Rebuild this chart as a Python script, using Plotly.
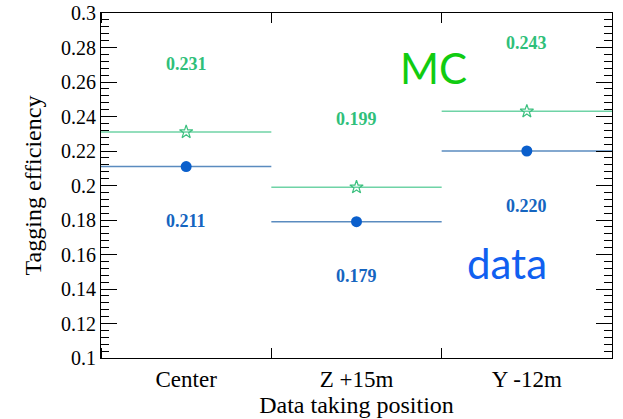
import plotly.graph_objects as go

categories = ["Center", "Z +15m", "Y -12m"]
mc_eff = [0.231, 0.199, 0.243]
data_eff = [0.211, 0.179, 0.220]
y_ticks = [0.1, 0.12, 0.14, 0.16, 0.18, 0.2, 0.22, 0.24, 0.26, 0.28, 0.3]

xpos = [i + 0.5 for i in range(len(categories))]
serif = "Liberation Serif"

fig = go.Figure()
fig.add_trace(go.Scatter(
    x=xpos, y=mc_eff, mode="markers",
    marker=dict(symbol="star-open", size=10, color="#3cc07f", line=dict(width=1.2, color="#3cc07f")),
    error_x=dict(type="constant", value=0.5, width=0, thickness=1.5, color="#6fd3a6"),
    showlegend=False, hoverinfo="skip"))
fig.add_trace(go.Scatter(
    x=xpos, y=data_eff, mode="markers",
    marker=dict(symbol="circle", size=11, color="#0a5fcc"),
    error_x=dict(type="constant", value=0.5, width=0, thickness=1.5, color="#5a8bbf"),
    showlegend=False, hoverinfo="skip"))

ann = []
for x, v in zip(xpos, mc_eff):
    ann.append(dict(x=x, y=v + 0.0395, xref="x", yref="y", text=f"<b>{v:.3f}</b>",
                    showarrow=False, font=dict(family=serif, size=18, color="#2fbf7a")))
for x, v in zip(xpos, data_eff):
    ann.append(dict(x=x, y=v - 0.0317, xref="x", yref="y", text=f"<b>{v:.3f}</b>",
                    showarrow=False, font=dict(family=serif, size=18, color="#1565c0")))
ann.append(dict(x=1.95, y=0.268, xref="x", yref="y", text="MC", showarrow=False,
                font=dict(family="Lato", size=42, color="#11cc11")))
ann.append(dict(x=2.384, y=0.155, xref="x", yref="y", text="data", showarrow=False,
                font=dict(family="Lato", size=42, color="#1060f0")))

fig.update_layout(
    width=623, height=419,
    margin=dict(l=101, r=11, t=13, b=61),
    plot_bgcolor="white", paper_bgcolor="white",
    annotations=ann,
    xaxis=dict(range=[0, 3], tickvals=xpos, ticktext=categories, ticks="", showgrid=False,
               automargin=False,
               zeroline=False, showline=True, linecolor="black", linewidth=1.2, mirror="ticks",
               tickfont=dict(family=serif, size=23, color="black"),
               title=dict(text="Data taking position", font=dict(family=serif, size=24, color="black"),
                          standoff=2),
               minor=dict(tick0=0, dtick=1, ticks="inside", ticklen=10, tickcolor="black", showgrid=False)),
    yaxis=dict(range=[0.1, 0.3], tickvals=y_ticks, ticktext=[f"{t:g}" for t in y_ticks],
               automargin=False,
               ticks="inside", ticklen=16, tickcolor="black", showgrid=False, zeroline=False,
               showline=True, linecolor="black", linewidth=1.2, mirror="ticks",
               tickfont=dict(family=serif, size=20, color="black"),
               title=dict(text="Tagging efficiency", font=dict(family=serif, size=24, color="black"),
                          standoff=12),
               minor=dict(tick0=0.1, dtick=0.004, ticks="inside", ticklen=8, tickcolor="black", showgrid=False)),
)

fig.write_html("out.html")
